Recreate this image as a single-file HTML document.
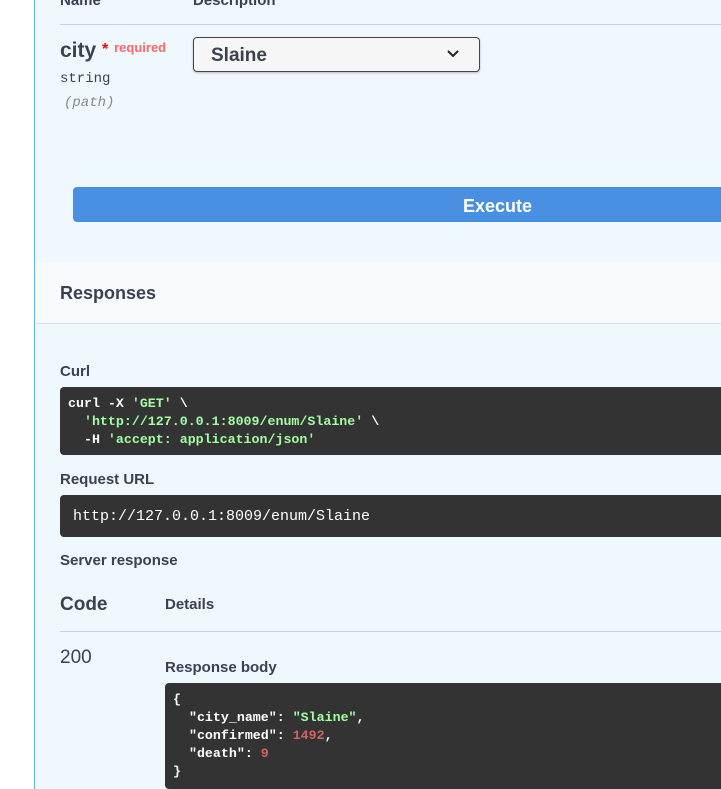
<!DOCTYPE html>
<html><head><style>
body{margin:0;width:721px;height:789px;overflow:hidden;background:#fff;font-family:"Liberation Sans",sans-serif;color:#3b4151;position:relative}
.a{position:absolute;white-space:nowrap}
.main{position:absolute;left:34px;top:0;width:700px;height:789px;background:#eff7ff;border-left:1px solid #61affe}
.b{font-weight:bold}
.mono{font-family:"Liberation Mono",monospace}
.dark{position:absolute;background:#333;border-radius:4px;color:#fff}
.g{color:#a2fca2}
</style></head><body>
<div class="main"></div>
<div class="a b" style="left:60px;top:-8px;font-size:15px">Name</div>
<div class="a b" style="left:193px;top:-8px;font-size:15px">Description</div>
<div class="a" style="left:60px;top:24px;width:661px;height:1px;background:#c9d3de"></div>
<div class="a b" style="left:60px;top:39px;font-size:21px">city <span style="color:red;font-size:16px;position:relative;top:-3px">*</span> <span style="color:#f66;font-size:13px;position:relative;top:-5px">required</span></div>
<div class="a mono" style="left:60px;top:71px;font-size:14px">string</div>
<div class="a mono" style="left:64px;top:95px;font-size:14px;font-style:italic;color:#888">(path)</div>
<div class="a" style="left:193px;top:37px;width:285px;height:33px;background:#f7f7f7;border:1px solid #41444e;border-radius:4px;box-shadow:0 1px 2px rgba(0,0,0,.25)"></div>
<div class="a b" style="left:211px;top:45px;font-size:19px">Slaine</div>
<svg class="a" style="left:446px;top:49px" width="14" height="10"><path d="M2 2l5 5 5-5" stroke="#222" stroke-width="2" fill="none"/></svg>
<div class="a" style="left:73px;top:187px;width:660px;height:35px;background:#4990e2;border-radius:4px"></div>
<div class="a b" style="left:463px;top:196px;font-size:18px;color:#fff">Execute</div>
<div class="a" style="left:35px;top:262px;width:686px;height:61px;background:#f8fbfe;border-bottom:1px solid #d9e2ec"></div>
<div class="a b" style="left:60px;top:283px;font-size:18px">Responses</div>
<div class="a b" style="left:60px;top:363px;font-size:15px">Curl</div>
<div class="dark mono b" style="left:60px;top:387px;width:670px;height:68px;font-size:13.3px;line-height:18px;padding:0">
<div style="position:absolute;left:8px;top:8px;white-space:pre">curl -X <span class="g">'GET'</span> \
  <span class="g">'http://127.0.0.1:8009/enum/Slaine'</span> \
  -H <span class="g">'accept: application/json'</span></div></div>
<div class="a b" style="left:60px;top:471px;font-size:15px">Request URL</div>
<div class="dark mono" style="left:60px;top:495px;width:670px;height:42px"><div style="position:absolute;left:13px;top:13px;font-size:15px">http://127.0.0.1:8009/enum/Slaine</div></div>
<div class="a b" style="left:60px;top:552px;font-size:15px">Server response</div>
<div class="a b" style="left:60px;top:594px;font-size:19px">Code</div>
<div class="a b" style="left:165px;top:596px;font-size:15px">Details</div>
<div class="a" style="left:60px;top:631px;width:661px;height:1px;background:#c9d3de"></div>
<div class="a" style="left:60px;top:647px;font-size:19px">200</div>
<div class="a b" style="left:165px;top:659px;font-size:15px">Response body</div>
<div class="dark mono b" style="left:165px;top:683px;width:570px;height:106px;font-size:13.3px;line-height:18px">
<div style="position:absolute;left:8px;top:8px;white-space:pre">{
  "city_name": <span class="g">"Slaine"</span>,
  "confirmed": <span style="color:#d36363">1492</span>,
  "death": <span style="color:#d36363">9</span>
}</div></div>
</body></html>
